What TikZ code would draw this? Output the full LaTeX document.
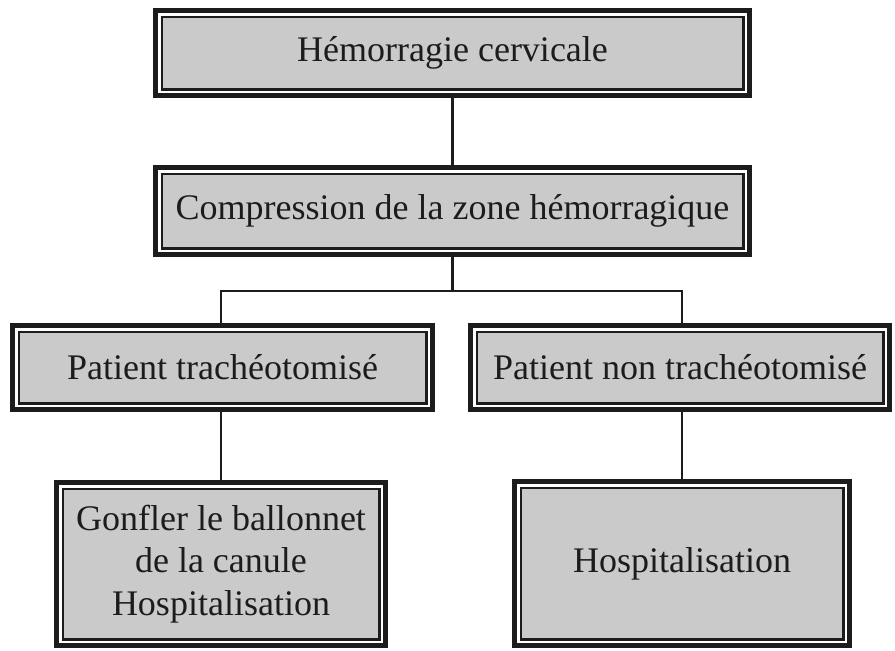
\documentclass[tikz,border=0pt]{standalone}
\usepackage{fontspec}
\setmainfont{Liberation Serif}
\definecolor{ink}{RGB}{28,28,28}
\definecolor{boxfill}{RGB}{202,202,202}
\begin{document}
\begin{tikzpicture}[x=1pt,y=-1pt,
  box/.style={draw=ink, fill=white, line width=5.5pt, rectangle, inner sep=0pt, outer sep=0pt,
    align=center, text=ink, font=\fontsize{36}{42.5}\selectfont},
  link/.style={draw=ink, line width=2.8pt}]
\useasboundingbox (0,0) rectangle (895,651);
% outer frames
\node[box, minimum width=594pt, minimum height=85pt] (b1) at (452.5,53) {};
\node[box, minimum width=594pt, minimum height=87pt] (b2) at (452.5,211) {};
\node[box, minimum width=420pt, minimum height=84pt] (b3) at (222.5,367.5) {};
\node[box, minimum width=419pt, minimum height=84pt] (b4) at (680,367.5) {};
\node[box, minimum width=329pt, minimum height=163pt] (b5) at (221,564) {};
\node[box, minimum width=335pt, minimum height=164pt] (b6) at (682,563.5) {};
% inner frames
\foreach \n in {b1,b2,b3,b4,b5,b6}{
  \draw[draw=ink, fill=boxfill, line width=2.6pt]
    ([xshift=6.3pt,yshift=-6.3pt]\n.north west) rectangle ([xshift=-6.3pt,yshift=6.3pt]\n.south east);
}
% texts
\node[box, draw=none, fill=none] (t1) at (b1) {Hémorragie cervicale};
\node[box, draw=none, fill=none] (t2) at (b2) {Compression de la zone hémorragique};
\node[box, draw=none, fill=none] (t3) at (b3) {Patient trachéotomisé};
\node[box, draw=none, fill=none] (t4) at (b4) {Patient non trachéotomisé};
\node[box, draw=none, fill=none] (t5) at (b5) {Gonfler le ballonnet\\de la canule\\Hospitalisation};
\node[box, draw=none, fill=none] (t6) at (b6) {Hospitalisation};
% connectors
\coordinate (j) at (452.5,291);
\coordinate (jl) at (221,291);
\coordinate (jr) at (682,291);
\path[link] (b1.south) -- (b2.north);
\path[link] (b2.south) -- (j);
\path[link, line cap=rect] (jl) -- (jr);
\path[link] (jl) -- (jl |- b3.north);
\path[link] (jr) -- (jr |- b4.north);
\path[link] (b3.south -| jl) -- (b5.north -| jl);
\path[link] (b4.south -| jr) -- (b6.north -| jr);
\end{tikzpicture}
\end{document}
